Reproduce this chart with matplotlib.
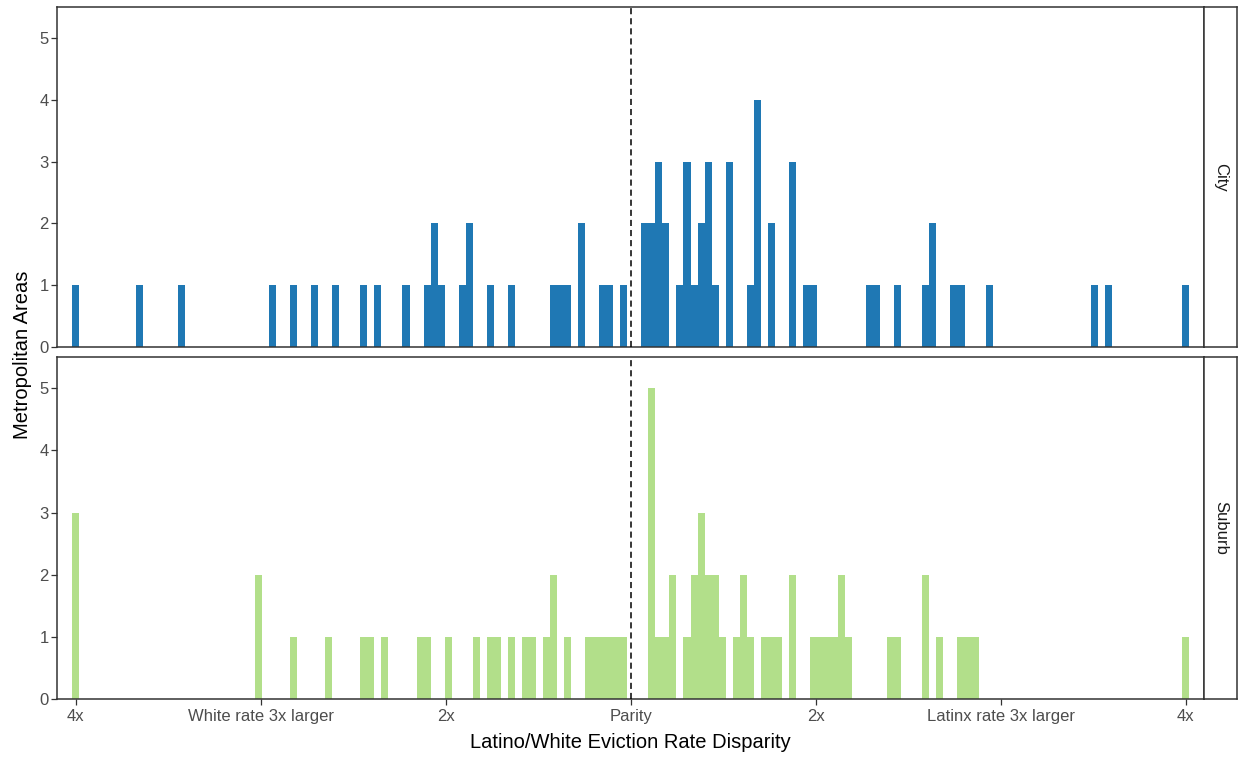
import numpy as np
import matplotlib
matplotlib.use("Agg")
import matplotlib.pyplot as plt

plt.rcParams['font.family'] = ['Liberation Sans', 'DejaVu Sans']

# 159 equal bins across -3 (4x white) .. +3 (4x Latinx), one centred on parity
BIN_WIDTH = 6 / 158

tick_values = [-3, -2, -1, 0, 1, 2, 3]
tick_labels = ['4x', 'White rate 3x larger', '2x', 'Parity', '2x', 'Latinx rate 3x larger', '4x']

# City: bin index (0 = parity) and number of metro areas in that bin
city_bin = [-79, -70, -64, -51, -48, -45, -42, -38, -36, -32,
            -29, -28, -27, -24, -23, -20, -17, -11, -10, -9,
            -7, -4, -3, -1, 2, 3, 4, 5, 7, 8,
            9, 10, 11, 12, 14, 17, 18, 20, 23, 25,
            26, 34, 35, 38, 42, 43, 46, 47, 51, 66,
            68, 79]
city_count = [1, 1, 1, 1, 1, 1, 1, 1, 1, 1,
              1, 2, 1, 1, 2, 1, 1, 1, 1, 1,
              2, 1, 1, 1, 2, 2, 3, 2, 1, 3,
              1, 2, 3, 1, 3, 1, 4, 2, 3, 1,
              1, 1, 1, 1, 1, 2, 1, 1, 1, 1,
              1, 1]

# Suburb
suburb_bin = [-79, -53, -48, -43, -38, -37, -35, -30, -29, -26,
              -22, -20, -19, -17, -15, -14, -12, -11, -9, -6,
              -5, -4, -3, -2, -1, 3, 4, 5, 6, 8,
              9, 10, 11, 12, 13, 15, 16, 17, 19, 20,
              21, 23, 26, 27, 28, 29, 30, 31, 37, 38,
              42, 44, 47, 48, 49, 79]
suburb_count = [3, 2, 1, 1, 1, 1, 1, 1, 1, 1,
                1, 1, 1, 1, 1, 1, 1, 2, 1, 1,
                1, 1, 1, 1, 1, 5, 1, 1, 2, 1,
                2, 3, 2, 2, 1, 1, 2, 1, 1, 1,
                1, 2, 1, 1, 1, 1, 2, 1, 1, 1,
                2, 1, 1, 1, 1, 1]

panels = [
    ('City', city_bin, city_count, '#1F78B4'),
    ('Suburb', suburb_bin, suburb_count, '#B2DF8A'),
]

W, H = 1238, 759
fig = plt.figure(figsize=(W / 100, H / 100), dpi=100)

def fx(px):
    return px / W

def fy(py):
    return 1 - py / H

left_px, right_px, strip_right_px = 57.3, 1204.3, 1237.0
panel_rows = [(6.7, 347.3), (357.3, 699.0)]
frame_color = '#333333'
label_grey = '#4D4D4D'

for i, ((name, bins, counts, color), (top, bottom)) in enumerate(zip(panels, panel_rows)):
    ax = fig.add_axes([fx(left_px), fy(bottom), fx(right_px) - fx(left_px), fy(top) - fy(bottom)])
    x = np.array(bins) * BIN_WIDTH
    ax.bar(x, counts, width=BIN_WIDTH, color=color, linewidth=0, align='center', zorder=2)
    ax.axvline(0, color='black', linestyle=(0, (4.0, 2.6)), linewidth=1.1, zorder=3)
    ax.set_xlim(-3.1, 3.1)
    ax.set_ylim(0, 5.5)
    ax.set_yticks([0, 1, 2, 3, 4, 5])
    ax.tick_params(axis='y', length=4, width=0.9, color=frame_color, labelcolor=label_grey,
                   labelsize=12, pad=2)
    for sp in ax.spines.values():
        sp.set_linewidth(1.1)
        sp.set_color(frame_color)
    if i == 1:
        ax.set_xticks(tick_values)
        ax.set_xticklabels(tick_labels)
        ax.tick_params(axis='x', length=4, width=0.9, color=frame_color, labelcolor=label_grey,
                       labelsize=12, pad=3)
    else:
        ax.set_xticks([])

    # facet strip on the right
    sax = fig.add_axes([fx(right_px), fy(bottom), fx(strip_right_px) - fx(right_px), fy(top) - fy(bottom)])
    sax.set_xticks([])
    sax.set_yticks([])
    for sp in sax.spines.values():
        sp.set_linewidth(1.1)
        sp.set_color(frame_color)
    sax.text(0.5, 0.5, name, rotation=-90, ha='center', va='center',
             fontsize=12, color='#1A1A1A', transform=sax.transAxes)

fig.text(fx(630.7), fy(742), 'Latino/White Eviction Rate Disparity', ha='center', va='center',
         fontsize=14.5, color='black')
fig.text(fx(22.5), fy(355), 'Metropolitan Areas', rotation=90, ha='center', va='center',
         fontsize=14.5, color='black')

fig.savefig('out.png', dpi=100, facecolor='white')
